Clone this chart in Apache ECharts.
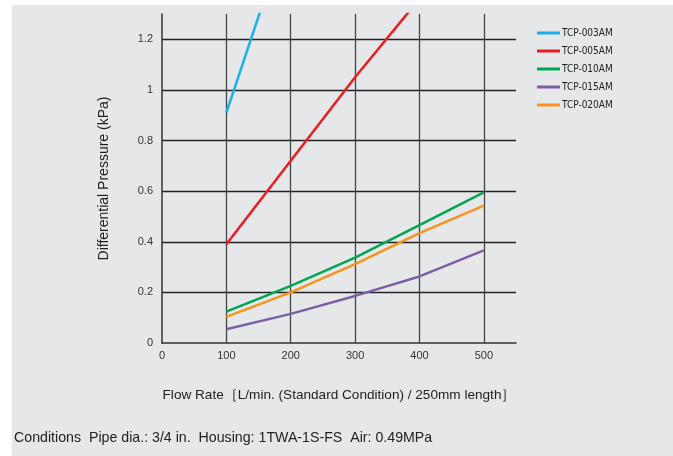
<!DOCTYPE html>
<html>
<head>
<meta charset="utf-8">
<script src="https://cdn.jsdelivr.net/npm/echarts@6/dist/echarts.min.js"></script>
<style>
  html, body { margin: 0; padding: 0; background: #ffffff; }
  #chart { width: 673px; height: 456px; }
</style>
</head>
<body>
<div id="chart"></div>
<script>
const flowRates = [100, 200, 300, 400, 500];
const seriesNames = ['TCP-003AM', 'TCP-005AM', 'TCP-010AM', 'TCP-015AM', 'TCP-020AM'];
const tcp003 = [0.91, 1.67];
const tcp005 = [0.39, 0.72, 1.05, 1.36];
const tcp010 = [0.124, 0.226, 0.337, 0.466, 0.595];
const tcp015 = [0.054, 0.115, 0.186, 0.263, 0.366];
const tcp020 = [0.103, 0.200, 0.312, 0.434, 0.543];
const seriesColors = ['#1eaee6', '#ec1c24', '#00a651', '#7b60a8', '#f7941d'];
const yAxisTitle = 'Differential Pressure (kPa)';
const xAxisTitle = 'Flow Rate［L/min. (Standard Condition) / 250mm length］';
const footerText = 'Conditions  Pipe dia.: 3/4 in.  Housing: 1TWA-1S-FS  Air: 0.49MPa';

const allValues = [tcp003, tcp005, tcp010, tcp015, tcp020];
function pairs(vals) { return vals.map((v, i) => [flowRates[i], v]); }

const chart = echarts.init(document.getElementById('chart'));
const narrow = "'DejaVu Sans Condensed', 'Liberation Sans Narrow', sans-serif";
chart.setOption({
  backgroundColor: '#ffffff',
  animation: false,
  graphic: [
    { type: 'rect', left: 12, top: 5, shape: { width: 661, height: 451 }, style: { fill: '#e6e7e8' }, z: -10, silent: true },
    { type: 'text', left: 14, top: 431, style: { text: footerText, font: "14.2px 'Liberation Sans', Arial, sans-serif", fill: '#222' } }
  ],
  grid: { left: 162, top: 14, width: 354, height: 329 },
  legend: {
    orient: 'vertical', left: 537, top: 27, padding: 0,
    icon: 'rect', itemWidth: 23, itemHeight: 3, itemGap: 6,
    textStyle: { fontFamily: narrow, fontSize: 10, color: '#222', lineHeight: 12, padding: [0, 0, 0, -3] },
    data: seriesNames
  },
  xAxis: {
    type: 'value', min: 0, max: 550, interval: 100,
    name: xAxisTitle, nameLocation: 'middle', nameGap: 45,
    nameTextStyle: { fontFamily: "'Liberation Sans', Arial, sans-serif", fontSize: 13.6, color: '#222' },
    axisLine: { show: true, lineStyle: { color: '#333', width: 1.5 } },
    axisTick: { show: false },
    axisLabel: { showMaxLabel: false, fontFamily: "'Liberation Sans', Arial, sans-serif", fontSize: 11, color: '#333', margin: 7 },
    splitLine: { show: true, showMinLine: false, showMaxLine: false, lineStyle: { color: '#444', width: 1.3 } }
  },
  yAxis: {
    type: 'value', min: 0, max: 1.3, interval: 0.2,
    name: yAxisTitle, nameLocation: 'middle', nameGap: 51,
    nameTextStyle: { fontFamily: "'Liberation Sans', Arial, sans-serif", fontSize: 14, color: '#222' },
    axisLine: { show: true, lineStyle: { color: '#333', width: 1.5 } },
    axisTick: { show: false },
    axisLabel: { showMaxLabel: false, fontFamily: "'Liberation Sans', Arial, sans-serif", fontSize: 11, color: '#333', margin: 9,
      formatter: v => (Math.round(v * 10) / 10).toString() },
    splitLine: { show: true, showMinLine: false, showMaxLine: false, lineStyle: { color: '#222', width: 1.3 } }
  },
  series: seriesNames.map((name, i) => ({
    name, type: 'line', data: pairs(allValues[i]), clip: true,
    showSymbol: false, symbol: 'none',
    lineStyle: { color: seriesColors[i], width: 2.5 },
    itemStyle: { color: seriesColors[i] }
  }))
});
</script>
</body>
</html>
